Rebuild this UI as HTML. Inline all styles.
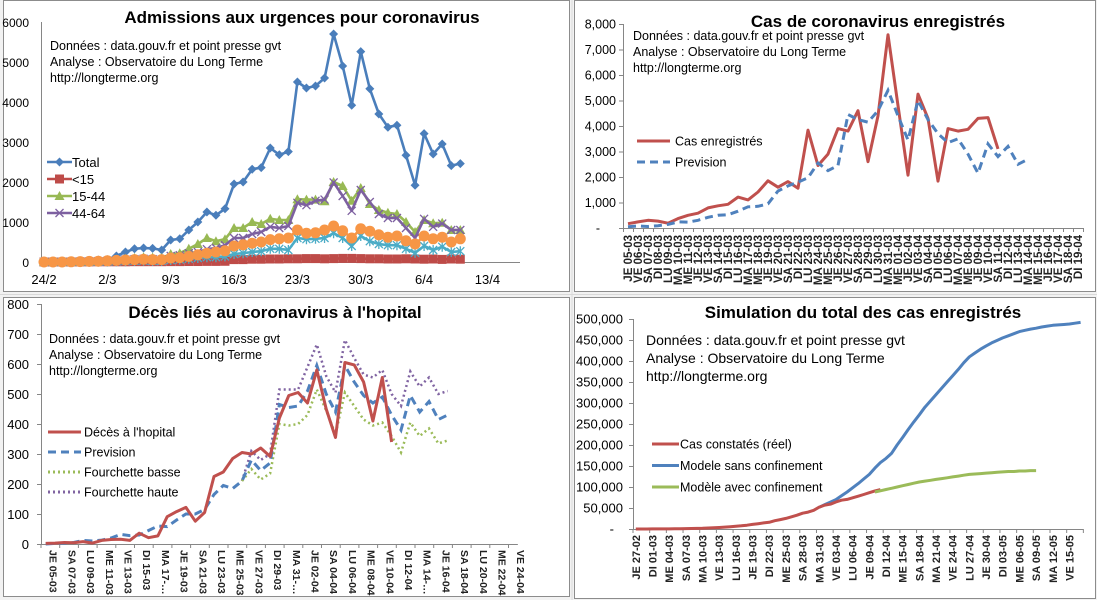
<!DOCTYPE html>
<html><head><meta charset="utf-8"><style>
html,body{margin:0;padding:0;background:#fff;}
svg{display:block;font-family:"Liberation Sans",sans-serif;}
</style></head><body>
<svg id="s" width="1097" height="600" viewBox="0 0 1097 600" xmlns="http://www.w3.org/2000/svg">
<rect x="0" y="0" width="1097" height="600" fill="#f2f2f2"/>
<g stroke="#d9d9d9" stroke-width="1">
<line x1="0" y1="294.5" x2="1097" y2="294.5"/><line x1="572" y1="0" x2="572" y2="600"/>
</g>
<rect x="3.5" y="0.5" width="566" height="291" fill="#fff" stroke="#8c8c8c"/>
<rect x="574.5" y="0.5" width="521" height="291" fill="#fff" stroke="#8c8c8c"/>
<rect x="3.5" y="297.5" width="566" height="299" fill="#fff" stroke="#8c8c8c"/>
<rect x="574.5" y="297.5" width="521" height="301" fill="#fff" stroke="#8c8c8c"/>
<g id="p1"></g>
<g id="p2"></g>
<g id="p3"></g>
<g id="p4"></g>
</svg>
<script>
// ---- Panel 1 data (daily from 24/2) ----
const p1Ticks = ["0","1000","2000","3000","4000","5000","6000"];
const p1XLabels = ["24/2","2/3","9/3","16/3","23/3","30/3","6/4","13/4"];
const p1Total = [0,0,0,10,20,30,50,60,150,250,330,350,340,300,550,580,800,1000,1250,1170,1330,1950,2000,2320,2360,2850,2680,2760,4500,4350,4400,4600,5700,4900,3920,5260,4330,3700,3370,3420,2670,1920,3210,2700,2950,2410,2460];
const p1Under15 = [0,0,0,0,2,3,5,5,5,5,8,8,8,8,10,10,12,12,15,15,18,60,60,70,70,75,75,80,80,85,85,80,85,90,90,85,80,80,75,75,80,75,70,75,65,75,70];
const p1Age1544 = [0,0,0,5,10,20,30,40,60,80,100,120,110,100,200,220,330,450,600,520,570,850,850,1000,950,1080,1050,1050,1570,1560,1560,1520,2000,1900,1530,1850,1450,1300,1230,1200,1000,750,1050,970,980,800,800];
const p1Age4464 = [0,0,0,5,10,15,20,30,40,60,70,80,70,60,150,170,220,250,320,350,420,600,600,700,750,880,850,900,1480,1420,1530,1560,1990,1650,1280,1800,1500,1200,1100,1100,850,600,1080,880,960,800,800];
const p1Age6574 = [0,0,0,2,4,6,8,10,15,20,25,30,25,25,50,60,80,100,120,120,140,200,220,250,270,330,330,300,600,570,580,600,720,600,400,650,520,450,420,420,330,230,400,300,380,250,270];
const p1Age75 = [0,0,0,5,10,15,20,30,40,50,60,70,60,60,100,110,140,180,220,250,280,400,430,470,500,560,580,600,800,720,730,800,900,780,600,830,770,680,620,650,530,450,650,580,620,500,580];
// ---- Panel 2 data (from 5/3) ----
const p2Ticks = ["-","1,000","2,000","3,000","4,000","5,000","6,000","7,000","8,000"];
const p2Cas = [170,240,300,270,190,370,500,580,790,870,930,1210,1100,1410,1850,1600,1820,1560,3840,2450,2900,3900,3800,4600,2600,4400,7580,4800,2070,5250,4300,1840,3900,3800,3870,4300,4330,3100];
const p2Prev = [50,80,60,90,140,240,230,300,420,500,520,660,830,850,950,1450,1650,1800,1970,2550,2250,2450,4450,4250,4150,4600,5400,4400,3450,5000,4250,3700,3350,3500,2900,2150,3300,2800,3200,2500,2700];
// ---- Panel 3 data (from 5/3) ----
const p3Ticks = ["0","100","200","300","400","500","600","700","800"];
const p3Deces = [2,3,5,4,8,3,12,15,16,12,36,21,27,91,108,122,76,105,225,240,285,305,300,320,292,420,495,505,470,580,450,355,605,597,540,410,555,340];
const p3Prev = [0,2,3,5,12,10,13,20,32,28,30,45,60,58,80,100,100,115,165,195,185,210,280,245,270,465,455,460,510,595,500,440,595,540,495,470,490,430,380,495,440,475,415,430];
const p3BasseStart = 21;
const p3Basse = [210,250,215,235,400,395,400,430,515,445,365,505,460,415,395,405,360,305,405,360,385,335,345];
const p3Haute = [210,310,280,300,515,515,515,590,665,560,505,680,620,565,555,580,500,460,575,525,555,500,510];
// ---- Panel 4 data (from 27/2) ----
const p4Ticks = ["-","50,000","100,000","150,000","200,000","250,000","300,000","350,000","400,000","450,000","500,000"];
const p4Reel = [38,57,100,130,191,212,285,423,613,949,1126,1412,1784,2281,2876,3661,4499,5423,6633,7730,9134,10995,12612,14459,16018,19856,22302,25233,29155,32964,37575,40174,44550,52128,56989,59105,64338,68605,70478,74390,78167,82048,86334,90676,93790];
const p4SansStart = 33;
const p4Sans = [52,58,64,70,79,88,98,108,119,130,145,158,168,180,200,218,237,255,272,290,305,320,335,350,365,380,396,410,419,428,436,443,449,455,460,465,470,473,476,478,481,483,485,486,487,488,490,492];
const p4AvecStart = 43;
const p4Avec = [88,91,94,97,100,103,106,109,112,114,116,118,120,122,124,126,128,130,131,132,133,134,135,136,137,137,138,138,139,139];

const NS="http://www.w3.org/2000/svg";
function mk(parent,tag,attrs,text){const e=document.createElementNS(NS,tag);for(const k in attrs)e.setAttribute(k,attrs[k]);if(text!==undefined)e.textContent=text;parent.appendChild(e);return e;}
function pts(xf,yf,vals,start){return vals.map((v,i)=>xf(i+start).toFixed(1)+","+yf(v).toFixed(1)).join(" ");}
const DAYS=["LU","MA","ME","JE","VE","SA","DI"];
function dateLabel(startDate,i){const d=new Date(Date.UTC(2020,startDate[1]-1,startDate[0]+i));const wd=(d.getUTCDay()+6)%7;const dd=String(d.getUTCDate()).padStart(2,"0");const mm=String(d.getUTCMonth()+1).padStart(2,"0");return DAYS[wd]+" "+dd+"-"+mm;}
function infoText(g,x,y,step,size){
  const lines=["Données : data.gouv.fr  et point presse gvt","Analyse : Observatoire du Long Terme","http://longterme.org"];
  lines.forEach((t,k)=>{const e=mk(g,"text",{x:x,y:y+k*step,"font-size":size,fill:"#000"},t);

});
}
function title(g,x,y,t){const e=mk(g,"text",{x:x,y:y,"font-size":17,"font-weight":"bold","text-anchor":"middle",fill:"#000"},t);

}

// ===== Panel 1 =====
(function(){
  const g=document.getElementById("p1");
  const x=d=>44+9.05*d, y=v=>262-v*0.04;
  const ax=mk(g,"path",{d:"M41.5,22V262.5H520",stroke:"#868686",fill:"none"});
  
  
  p1Ticks.forEach((t,i)=>{const e=mk(g,"text",{x:29,y:y(i*1000)+5,"font-size":12,"text-anchor":"end"},t);
  
  });
  p1XLabels.forEach((t,i)=>{const e=mk(g,"text",{x:x(i*7),y:284,"font-size":13,"text-anchor":"middle"},t);
  
  });
  title(g,302,23,"Admissions aux urgences pour coronavirus");
  infoText(g,50,50,16,12.5);
  function series(vals,color,marker,name){
    const sg=mk(g,"g",{});
    
    
    mk(sg,"polyline",{points:pts(x,y,vals,0),fill:"none",stroke:color,"stroke-width":2.6,"stroke-linejoin":"round"});
    vals.forEach((v,i)=>marker(sg,x(i),y(v),color));
  }
  const diamond=(g2,cx,cy,c)=>mk(g2,"path",{d:`M${cx},${cy-4.5}L${cx+4.5},${cy}L${cx},${cy+4.5}L${cx-4.5},${cy}Z`,fill:c});
  const square=(g2,cx,cy,c)=>mk(g2,"rect",{x:cx-4.5,y:cy-4.5,width:9,height:9,fill:c});
  const tri=(g2,cx,cy,c)=>mk(g2,"path",{d:`M${cx},${cy-5}L${cx+5},${cy+4}L${cx-5},${cy+4}Z`,fill:c});
  const cross=(g2,cx,cy,c)=>mk(g2,"path",{d:`M${cx-4},${cy-4}L${cx+4},${cy+4}M${cx+4},${cy-4}L${cx-4},${cy+4}`,stroke:c,"stroke-width":1.3});
  const star=(g2,cx,cy,c)=>mk(g2,"path",{d:`M${cx-4},${cy-4}L${cx+4},${cy+4}M${cx+4},${cy-4}L${cx-4},${cy+4}M${cx},${cy-5}V${cy+5}`,stroke:c,"stroke-width":1.3});
  const circ=(g2,cx,cy,c)=>mk(g2,"circle",{cx:cx,cy:cy,r:5.5,fill:c});
  series(p1Total,"#4a7ebb",diamond,"series-total");
  series(p1Under15,"#be4b48",square,"series-under-15");
  series(p1Age1544,"#98b954",tri,"series-15-44");
  series(p1Age4464,"#7d60a0",cross,"series-44-64");
  series(p1Age6574,"#4bacc6",star,"series-65-74");
  series(p1Age75,"#f79646",circ,"series-75-plus");
  const leg=[["Total","#4a7ebb",diamond],["<15","#be4b48",square],["15-44","#98b954",tri],["44-64","#7d60a0",cross]];
  leg.forEach((l,k)=>{const ly=162+k*17;const lg=mk(g,"g",{});
  
  
  mk(lg,"line",{x1:47,y1:ly,x2:72,y2:ly,stroke:l[1],"stroke-width":2.6});l[2](lg,59.5,ly,l[1]);
  mk(lg,"text",{x:72,y:ly+5,"font-size":13},l[0]);});
})();

// ===== Panel 2 =====
(function(){
  const g=document.getElementById("p2");
  const N=46, x0=623, cw=10;
  const x=i=>x0+cw*(i+0.5), y=v=>228-v*0.0255;
  const ax=mk(g,"path",{d:`M623.5,24V228.5H${x0+N*cw}`,stroke:"#868686",fill:"none"});
  
  
  for(let i=0;i<=N;i++)mk(g,"line",{x1:x0+i*cw+0.5,y1:228,x2:x0+i*cw+0.5,y2:232,stroke:"#868686"});
  p2Ticks.forEach((t,i)=>{mk(g,"line",{x1:619,y1:y(i*1000)+0.5,x2:623,y2:y(i*1000)+0.5,stroke:"#868686"});
  const e=mk(g,"text",{x:t==="-"?600:616,y:y(i*1000)+4.5,"font-size":12.5,"text-anchor":"end"},t);
  
  });
  for(let i=0;i<N;i++){const lx=x(i)+4,ly=235;const e=mk(g,"text",{x:lx,y:ly,"font-size":11.5,"font-weight":"bold","text-anchor":"end",transform:`rotate(-90 ${lx} ${ly})`,fill:"#222"},dateLabel([5,3],i));
  
  }
  title(g,878,27,"Cas de coronavirus enregistrés");
  infoText(g,633,40,16,12.5);
  const a=mk(g,"polyline",{points:pts(x,y,p2Cas,0),fill:"none",stroke:"#c0504d","stroke-width":3,"stroke-linejoin":"round"});
  
  
  const b=mk(g,"polyline",{points:pts(x,y,p2Prev,0),fill:"none",stroke:"#4f81bd","stroke-width":3,"stroke-dasharray":"8,5"});
  
  
  const l1=mk(g,"g",{});
  
  
  mk(l1,"line",{x1:637,y1:141,x2:670,y2:141,stroke:"#c0504d","stroke-width":3});mk(l1,"text",{x:675,y:145.5,"font-size":12.5},"Cas enregistrés");
  const l2=mk(g,"g",{});
  
  
  mk(l2,"line",{x1:637,y1:162,x2:670,y2:162,stroke:"#4f81bd","stroke-width":3,"stroke-dasharray":"8,5"});mk(l2,"text",{x:675,y:166.5,"font-size":12.5},"Prevision");
})();

// ===== Panel 3 =====
(function(){
  const g=document.getElementById("p3");
  const N=51, x0=41, cw=9.35;
  const x=i=>x0+cw*(i+0.5), y=v=>544-v*0.3;
  const ax=mk(g,"path",{d:`M41.5,304V544.5H${x0+N*cw}`,stroke:"#868686",fill:"none"});
  
  
  for(let i=0;i<=N;i+=2)mk(g,"line",{x1:x0+i*cw,y1:544,x2:x0+i*cw,y2:548,stroke:"#868686"});
  p3Ticks.forEach((t,i)=>{mk(g,"line",{x1:37,y1:y(i*100)+0.5,x2:41,y2:y(i*100)+0.5,stroke:"#868686"});
  const e=mk(g,"text",{x:29,y:y(i*100)+5,"font-size":13,"text-anchor":"end"},t);
  
  });
  for(let i=0;i<N;i+=2){let t=dateLabel([5,3],i);if(t.startsWith("MA"))t=t.slice(0,6)+"…";const lx=x(i)+4,ly=550;
  const e=mk(g,"text",{x:lx,y:ly,"font-size":10.5,"font-weight":"bold","text-anchor":"start",transform:`rotate(90 ${lx} ${ly})`,fill:"#222"},t);
  
  }
  title(g,275,318,"Décès liés au coronavirus à l'hopital");
  infoText(g,49,343,16,12.5);
  const h=mk(g,"polyline",{points:pts(x,y,p3Haute,p3BasseStart),fill:"none",stroke:"#8064a2","stroke-width":2.5,"stroke-dasharray":"2,3"});
  
  
  const bs=mk(g,"polyline",{points:pts(x,y,p3Basse,p3BasseStart),fill:"none",stroke:"#9bbb59","stroke-width":2.5,"stroke-dasharray":"2,3"});
  
  
  const b=mk(g,"polyline",{points:pts(x,y,p3Prev,0),fill:"none",stroke:"#4f81bd","stroke-width":3,"stroke-dasharray":"8,5"});
  
  
  const a=mk(g,"polyline",{points:pts(x,y,p3Deces,0),fill:"none",stroke:"#c0504d","stroke-width":3,"stroke-linejoin":"round"});
  
  
  const leg=[["Décès à l'hopital","#c0504d",""],["Prevision","#4f81bd","8,5"],["Fourchette basse","#9bbb59","2,3"],["Fourchette haute","#8064a2","2,3"]];
  leg.forEach((l,k)=>{const ly=432+k*20;const lg=mk(g,"g",{});
  
  
  const at={x1:48,y1:ly,x2:81,y2:ly,stroke:l[1],"stroke-width":3};if(l[2])at["stroke-dasharray"]=l[2];mk(lg,"line",at);
  mk(lg,"text",{x:84,y:ly+4.5,"font-size":12.5},l[0]);});
})();

// ===== Panel 4 =====
(function(){
  const g=document.getElementById("p4");
  const N=81, x0=633, cw=5.56;
  const x=i=>x0+cw*(i+0.5), y=v=>529-v*0.00042;
  const ax=mk(g,"path",{d:`M633.5,319V529.5H${x0+N*cw}`,stroke:"#868686",fill:"none"});
  
  
  for(let i=0;i<=N;i+=3)mk(g,"line",{x1:x0+i*cw,y1:529,x2:x0+i*cw,y2:533,stroke:"#868686"});
  p4Ticks.forEach((t,i)=>{mk(g,"line",{x1:629,y1:y(i*50000)+0.5,x2:633,y2:y(i*50000)+0.5,stroke:"#868686"});
  const e=mk(g,"text",{x:t==="-"?614:623,y:y(i*50000)+4.5,"font-size":13,"text-anchor":"end"},t);
  
  });
  for(let i=0;i<N-1;i+=3){const lx=x(i)+4,ly=535;
  const e=mk(g,"text",{x:lx,y:ly,"font-size":11,"font-weight":"bold","text-anchor":"end",transform:`rotate(-90 ${lx} ${ly})`,fill:"#222"},dateLabel([27,2],i));
  
  }
  title(g,863,318,"Simulation du total des cas enregistrés");
  infoText(g,646,345,18,14);
  const s=mk(g,"polyline",{points:pts(x,y,p4Sans.map(v=>v*1000),p4SansStart),fill:"none",stroke:"#4f81bd","stroke-width":3,"stroke-linejoin":"round"});
  
  
  const r=mk(g,"polyline",{points:pts(x,y,p4Reel,0),fill:"none",stroke:"#c0504d","stroke-width":3,"stroke-linejoin":"round"});
  
  
  const a=mk(g,"polyline",{points:pts(x,y,p4Avec.map(v=>v*1000),p4AvecStart),fill:"none",stroke:"#9bbb59","stroke-width":3,"stroke-linejoin":"round"});
  
  
  const leg=[["Cas constatés (réel)","#c0504d"],["Modele sans confinement","#4f81bd"],["Modèle avec confinement","#9bbb59"]];
  leg.forEach((l,k)=>{const ly=444+k*21.5;const lg=mk(g,"g",{});
  
  
  mk(lg,"line",{x1:652,y1:ly,x2:679,y2:ly,stroke:l[1],"stroke-width":3});
  mk(lg,"text",{x:680,y:ly+4.5,"font-size":12.5},l[0]);});
})();
</script>
</body></html>
